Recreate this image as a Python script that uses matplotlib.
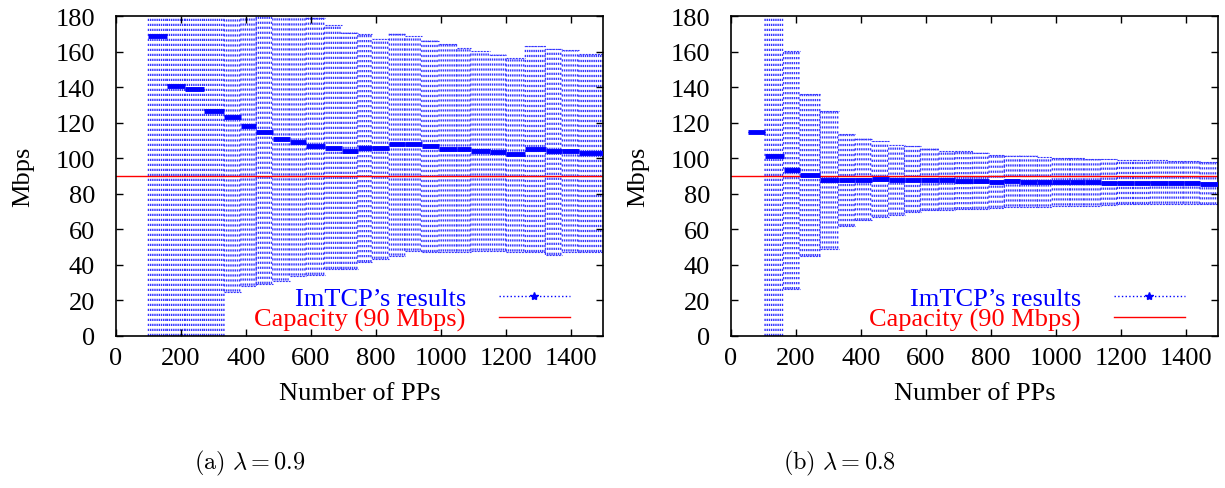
import numpy as np
import matplotlib
matplotlib.use("Agg")
import matplotlib.pyplot as plt
from matplotlib.lines import Line2D

plt.rcParams["font.family"] = ["Liberation Serif", "DejaVu Serif"]
plt.rcParams["mathtext.fontset"] = "cm"
plt.rcParams["lines.scale_dashes"] = False

# (a) lambda = 0.9 -- one entry per block of PPs (start of block)
a_start = [100, 158, 213, 272, 334, 385, 432, 483, 535, 586, 643, 695, 745,
           790, 842, 890, 942, 995, 1050, 1093, 1153, 1202, 1261, 1323, 1375, 1426]
a_end = 1500
a_mean = [168.5, 140.5, 138.7, 126.6, 123.0, 118.3, 114.8, 111.0, 109.1, 106.9,
          106.0, 104.2, 105.9, 105.9, 108.2, 108.2, 106.6, 105.4, 105.4, 104.2,
          103.3, 102.5, 105.4, 103.8, 103.8, 103.1]
a_low = [0, 0, 0, 0, 25.0, 28.3, 29.3, 31.2, 34.0, 34.4, 37.7, 37.7, 41.5,
         43.4, 45.2, 48.0, 47.2, 47.5, 47.5, 48.0, 48.0, 47.5, 47.2, 45.6, 47.5, 47.2]
a_high = [200, 200, 200, 200, 200, 200, 200, 200, 200, 179.0, 174.7, 170.7, 170.0,
          167.2, 170.0, 168.5, 166.2, 164.3, 161.9, 160.2, 158.3, 156.4, 163.0,
          161.5, 160.6, 158.9]

# (b) lambda = 0.8
b_start = [53, 105, 162, 213, 275, 332, 383, 435, 486, 535, 584, 641, 690, 744,
           795, 842, 890, 944, 990, 1045, 1090, 1140, 1190, 1240, 1292, 1345, 1395, 1445]
b_end = 1500
b_mean = [115.0, 101.0, 93.5, 90.7, 87.6, 87.8, 88.0, 88.2, 88.0, 87.8, 87.6, 87.5,
          87.3, 87.0, 86.8, 87.0, 86.8, 86.7, 86.6, 86.5, 86.4, 86.3, 86.2, 86.2,
          86.1, 86.0, 85.9, 85.6]
b_low = [115.0, 0, 26.3, 44.9, 49.2, 61.8, 65.0, 67.0, 68.2, 69.7, 70.6, 71.0,
         71.3, 71.5, 72.1, 72.8, 72.8, 72.8, 73.4, 73.4, 73.4, 73.8, 74.2, 74.2,
         74.4, 74.4, 74.4, 74.0]
b_high = [115.0, 200, 160.4, 136.0, 126.6, 113.4, 111.0, 109.5, 107.6, 106.9, 105.4,
          104.2, 104.0, 103.1, 102.0, 101.4, 101.4, 100.8, 100.3, 100.3, 99.5, 99.5,
          99.2, 98.8, 98.8, 98.4, 98.4, 97.9]

CAPACITY = 90
x_ticks = [0, 200, 400, 600, 800, 1000, 1200, 1400]
y_ticks = [0, 20, 40, 60, 80, 100, 120, 140, 160, 180]

AX_W_PX = 487
ERR_STEP = 6.7          # spacing of the error bars inside a block
DOTS = (0, (1.6, 2.0))
BAR_BLUE = "#3535ff"
FS = 19


def draw_panel(ax, starts, end, mean, low, high):
    ends = list(starts[1:]) + [end]
    for x0, x1, m, lo, hi in zip(starts, ends, mean, low, high):
        xs = np.arange(x0, x1, ERR_STEP)
        ax.vlines(xs, lo, hi, colors=BAR_BLUE, linestyles=DOTS, lw=1.0,
                  snap=False, zorder=1)
        ax.hlines([lo, hi], x0, x1, colors=BAR_BLUE, linestyles=(0, (1.5, 0.7)),
                  lw=0.8, zorder=1)
        ax.hlines(m, x0, x1, colors="blue", lw=3.5, zorder=3)
    ax.axhline(CAPACITY, color="red", lw=1.0, zorder=2)

    ax.set_xlim(0, 1500)
    ax.set_ylim(0, 180)
    ax.set_xticks(x_ticks)
    ax.set_yticks(y_ticks)
    ax.tick_params(direction="in", top=True, right=True, length=5, width=1,
                   labelsize=FS)
    ax.tick_params(axis="x", pad=8)
    ax.tick_params(axis="y", pad=15)
    for s in ax.spines.values():
        s.set_linewidth(1.2)
    ax.set_xlabel("Number of PPs", fontsize=FS, labelpad=9)
    ax.set_ylabel("Mbps", fontsize=FS, labelpad=15)

    handles = [
        Line2D([], [], color="blue", ls=":", lw=1, marker="*", ms=6),
        Line2D([], [], color="red", lw=1),
    ]
    leg = ax.legend(handles, ["ImTCP\u2019s results", "Capacity (90 Mbps)"],
                    loc="lower right", bbox_to_anchor=(1 - 33 / AX_W_PX, 0.015),
                    frameon=False, fontsize=FS, markerfirst=False,
                    handlelength=2.7, handletextpad=1.25, labelspacing=-0.1,
                    borderpad=0, borderaxespad=0, numpoints=1)
    for txt, col in zip(leg.get_texts(), ["blue", "red"]):
        txt.set_color(col)


fig = plt.figure(figsize=(12.25, 4.89), dpi=100)
ax_a = fig.add_axes([116 / 1225, 1 - 337 / 489, AX_W_PX / 1225, 320 / 489])
ax_b = fig.add_axes([731 / 1225, 1 - 337 / 489, AX_W_PX / 1225, 320 / 489])

draw_panel(ax_a, a_start, a_end, a_mean, a_low, a_high)
draw_panel(ax_b, b_start, b_end, b_mean, b_low, b_high)

fig.text(250 / 1225, 1 - 463 / 489, r"$\mathrm{(a)}\ \lambda = 0.9$",
         ha="center", va="center", fontsize=17.5)
fig.text(840 / 1225, 1 - 463 / 489, r"$\mathrm{(b)}\ \lambda = 0.8$",
         ha="center", va="center", fontsize=17.5)

fig.savefig("out.png", dpi=100)
